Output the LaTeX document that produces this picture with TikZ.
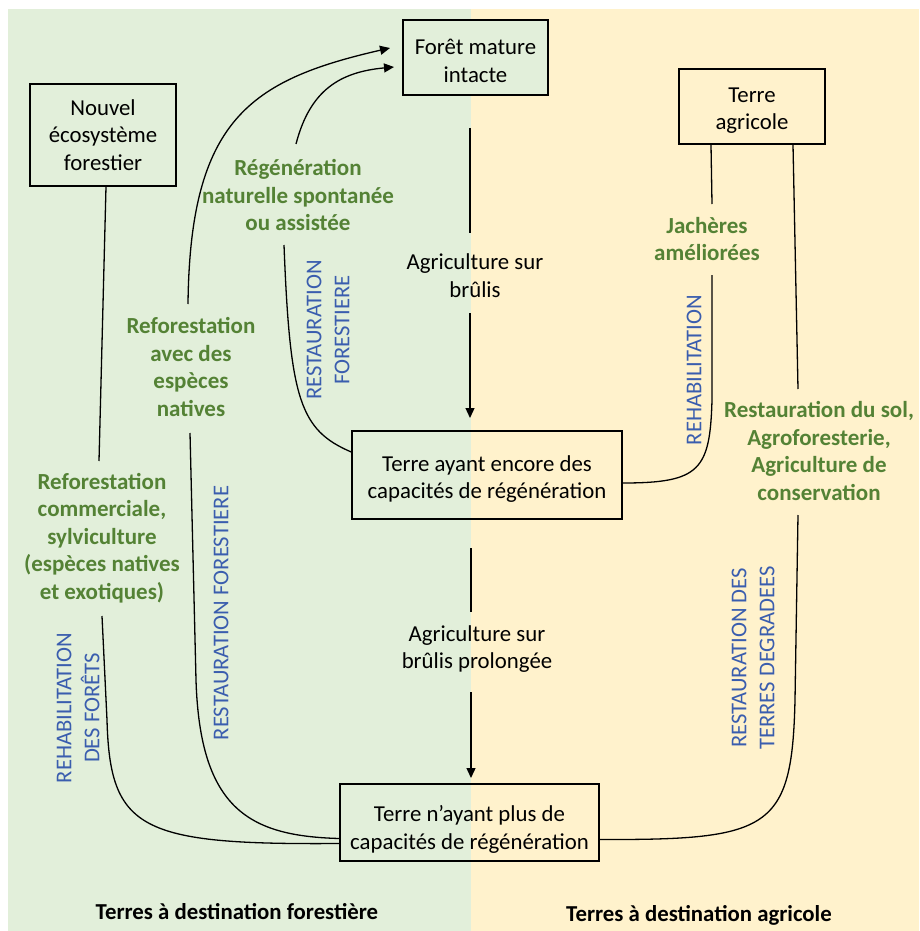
\documentclass[tikz,border=0pt]{standalone}
\usepackage{fontspec}
\setmainfont{Carlito}
\usetikzlibrary{arrows.meta}
\definecolor{bggreen}{HTML}{E2EFDA}
\definecolor{bgyellow}{HTML}{FFF2CC}
\definecolor{txtgreen}{HTML}{548235}
\definecolor{txtblue}{HTML}{3A5DAE}
\newcommand{\myboxfont}{\fontsize{22.8}{27.8}\selectfont}
\newcommand{\mygreenfont}{\bfseries\fontsize{23}{27.6}\selectfont}
\newcommand{\mybluefont}{\fontsize{22.6}{28}\selectfont}
\newcommand{\mybottomfont}{\bfseries\fontsize{22.8}{26}\selectfont}
\newcommand{\topstr}[1]{\rule{0pt}{#1pt}}
\begin{document}
\begin{tikzpicture}[x=1pt,y=-1pt,
  conn/.style={line width=1.3pt, draw=black},
  arr/.style={conn, -{Triangle[length=10pt,width=9pt]}},
  box/.style={draw, line width=1.5pt, align=center, inner sep=0pt, font=\myboxfont},
  gl/.style={text=txtgreen, font=\mygreenfont, align=center, inner sep=0pt},
  bl/.style={text=txtblue, font=\mybluefont, align=center, inner sep=0pt, rotate=90},
  tl/.style={font=\myboxfont, align=center, inner sep=0pt},
  btl/.style={font=\mybottomfont, align=center, inner sep=0pt}]
\useasboundingbox (0,0) rectangle (919,931);
\fill[white] (0,0) rectangle (919,931);
\fill[bggreen] (8,9) rectangle (471,931);
\fill[bgyellow] (471,9) rectangle (919,931);

% boxes
\node[box, fill=bggreen, minimum width=145pt, minimum height=75pt] (foret) at (475.5,57.5) {\topstr{22}Forêt mature\\intacte};
\node[box, minimum width=146pt, minimum height=102pt] (nouvel) at (103,135) {Nouvel\\écosystème\\forestier};
\node[box, minimum width=146pt, minimum height=75pt] (agricole) at (752,106.5) {\topstr{23}Terre\\agricole};
\node[box, minimum width=270pt, minimum height=88pt] (terre1) at (487,475) {\topstr{24}Terre ayant encore des\\capacités de régénération};
\node[box, minimum width=259pt, minimum height=77pt] (terre2) at (469.5,822.5) {\topstr{30}Terre n’ayant plus de\\capacités de régénération};

% green labels
\node[gl] (regen) at (298,195) {Régénération\\naturelle spontanée\\ou assistée};
\node[gl] (refnat) at (191,367) {Reforestation\\avec des\\espèces\\natives};
\node[gl] (refcom) at (102,538) {Reforestation\\commerciale,\\sylviculture\\(espèces natives\\et exotiques)};
\node[gl] (jach) at (707,239) {Jachères\\améliorées};
\node[gl] (restsol) at (819,451) {Restauration du sol,\\Agroforesterie,\\Agriculture de\\conservation};

% black labels
\node[tl] (agri1) at (475,276) {Agriculture sur\\brûlis};
\node[tl] (agri2) at (477,649) {Agriculture sur\\brûlis prolongée};

% blue labels
\node[bl] (rf1) at (328,330) {RESTAURATION\\FORESTIERE};
\node[bl] (rehab1) at (694,370) {REHABILITATION};
\node[bl] (rf2) at (221,613) {RESTAURATION FORESTIERE};
\node[bl] (rehabf) at (78,708) {REHABILITATION\\DES FORÊTS};
\node[bl] (rtd) at (753,658) {RESTAURATION DES\\TERRES DEGRADEES};

% bottom labels
\node[btl] (destf) at (237,912) {Terres à destination forestière};
\node[btl] (desta) at (699,915) {Terres à destination agricole};

% coordinates
\coordinate (v1a) at (470,128);
\coordinate (v1b) at (470,233);
\coordinate (v1c) at (470,313);
\coordinate (v1d) at (470,418);
\coordinate (v2a) at (471,548);
\coordinate (v2b) at (471,612);
\coordinate (v2c) at (471,692);
\coordinate (v2d) at (471,778);
\coordinate (rnTop) at (188,304);
\coordinate (tipA) at (390,48);
\coordinate (rgTop) at (296,144);
\coordinate (tipB) at (394,67);
\coordinate (rgBot) at (284,245);
\coordinate (rnBot) at (190,433);
\coordinate (rnMid) at (196,680);
\coordinate (ncTop) at (99,461);
\coordinate (ncBot) at (102,616);
\coordinate (ncMid) at (107,720);
\coordinate (jTop) at (712,204);
\coordinate (jBot) at (712,275);
\coordinate (jMid) at (712,400);
\coordinate (sTop) at (798,389);
\coordinate (sBot) at (798,515);
\coordinate (sMid) at (795,700);

% vertical arrows
\draw[conn] (v1a) -- (v1b);
\draw[arr] (v1c) -- (v1d);
\draw[conn] (v2a) -- (v2b);
\draw[arr] (v2c) -- (v2d);

% forest side
\draw[arr] (rnTop) .. controls (190,120) and (250,80) .. (tipA);
\draw[arr] (rgTop) .. controls (310,90) and (340,72) .. (tipB);
\draw[conn] (rgBot) .. controls (290,400) and (300,430) .. ([yshift=23pt]terre1.west);
\draw[conn] (rnBot) -- (rnMid) .. controls (200,810) and (250,836) .. ([yshift=-16pt]terre2.west);
\draw[conn] ([xshift=3pt]nouvel.south) -- (ncTop);
\draw[conn] (ncBot) -- (ncMid) .. controls (110,830) and (140,845) .. ([yshift=-21pt]terre2.west);

% agricultural side
\draw[conn] ([xshift=-41pt]agricole.south) -- (jTop);
\draw[conn] (jBot) -- (jMid) .. controls (710,470) and (700,483) .. ([yshift=-8pt]terre1.east);
\draw[conn] ([xshift=41pt]agricole.south) -- (sTop);
\draw[conn] (sBot) -- (sMid) .. controls (792,830) and (770,840) .. ([yshift=-17pt]terre2.east);
\end{tikzpicture}
\end{document}
